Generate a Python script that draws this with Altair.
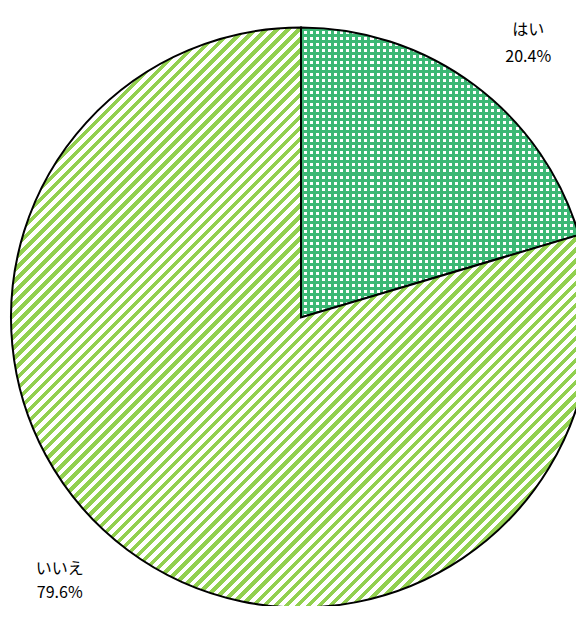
import altair as alt
import pandas as pd

categories = ["はい", "いいえ"]
percents = [20.4, 79.6]
order = [0, 1]

df = pd.DataFrame({"category": categories, "pct": percents, "order": order})

R = 290
CX, CY = 293, 309.5
STRIPE_GREEN = "#92d050"
GRID_GREEN = "#3cb874"


def stripes(n, color, frac, other, x1, y1, x2, y2):
    stops = []
    for k in range(n):
        a = k / n
        b = (k + frac) / n
        c = (k + 1) / n
        stops += [
            alt.GradientStop(offset=a, color=color),
            alt.GradientStop(offset=b, color=color),
            alt.GradientStop(offset=b, color=other),
            alt.GradientStop(offset=c, color=other),
        ]
    return alt.LinearGradient(gradient="linear", stops=stops, x1=x1, y1=y1, x2=x2, y2=y2)


diag = stripes(int(2 * R * 1.4142 / 7.8), STRIPE_GREEN, 0.5, "white", 0, 0, 1, 1)
vert = stripes(int(0.958 * R / 6), GRID_GREEN, 0.5, "white", 0, 0, 1, 0)
horiz = stripes(int(R / 6), GRID_GREEN, 0.5, "rgba(255,255,255,0)", 0, 0, 0, 1)

base = (
    alt.Chart(df)
    .transform_window(cum="sum(pct)", sort=[alt.SortField("order")])
    .transform_calculate(start="datum.cum - datum.pct", mid="datum.cum - datum.pct/2")
)

tscale = alt.Scale(domain=[0, 100], range=[0, 6.283185307179586])


def arc_layer(cat, fill, stroke):
    kw = dict(radius=R, fill=fill)
    if stroke:
        kw.update(stroke="black", strokeWidth=2)
    else:
        kw.update(strokeWidth=0)
    return (
        base.transform_filter(alt.datum.category == cat)
        .mark_arc(**kw)
        .encode(
            theta=alt.Theta("start:Q", scale=tscale),
            theta2="cum:Q",
            x=alt.value(CX),
            y=alt.value(CY),
        )
    )


def text_layer(cat, dx, dy, lh):
    return (
        base.transform_filter(alt.datum.category == cat)
        .transform_calculate(label="[datum.category, format(datum.pct, '.1f') + '%']")
        .mark_text(
            radius=360,
            dx=dx,
            dy=dy,
            font="Noto Sans CJK JP",
            fontSize=16,
            lineHeight=lh,
            color="black",
            align="center",
            baseline="middle",
        )
        .encode(
            theta=alt.Theta("mid:Q", scale=tscale),
            text="label:N",
            x=alt.value(CX),
            y=alt.value(CY),
        )
    )


chart = alt.layer(
    arc_layer("はい", vert, False),
    arc_layer("はい", horiz, True),
    arc_layer("いいえ", diag, True),
    text_layer("はい", 12, 1, 27),
    text_layer("いいえ", -26, -37, 24),
).properties(
    width=568,
    height=598,
    padding=0,
    autosize=alt.AutoSizeParams(type="none"),
).configure_view(stroke=None)

chart.save("out.html", embed_options={"renderer": "svg", "actions": False})
